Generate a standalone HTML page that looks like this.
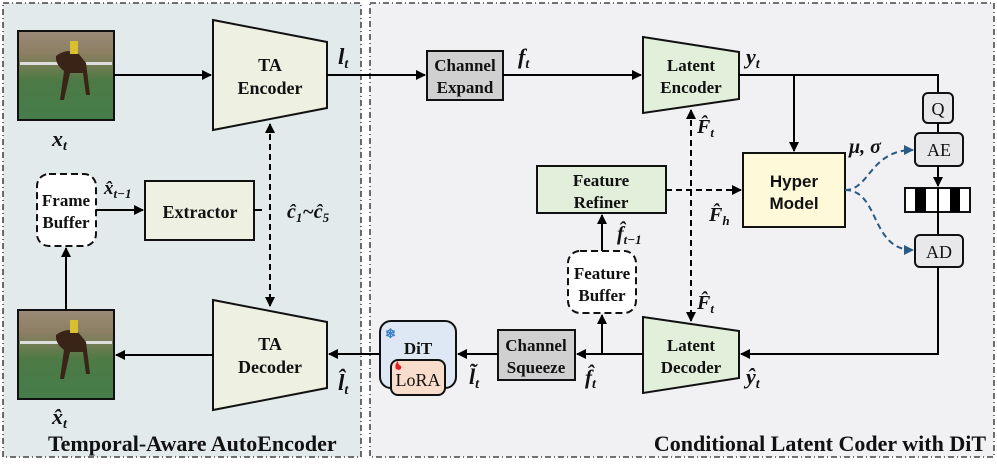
<!DOCTYPE html>
<html><head><meta charset="utf-8"><style>
body{margin:0;width:997px;height:461px;overflow:hidden;background:#fff}
text{font-family:"Liberation Serif",serif;font-weight:bold;fill:#111}
.m{font-style:italic}
</style></head><body>
<svg width="997" height="461" viewBox="0 0 997 461" xmlns="http://www.w3.org/2000/svg">
<defs>
<marker id="a" viewBox="0 0 10 10" refX="9" refY="5" markerWidth="5" markerHeight="5" orient="auto-start-reverse"><path d="M0,0L10,5L0,10z" fill="#000"/></marker>
<marker id="b" viewBox="0 0 10 10" refX="9" refY="5" markerWidth="5" markerHeight="5" orient="auto"><path d="M0,0L10,5L0,10z" fill="#2a5a85"/></marker>
<linearGradient id="img" x1="0" y1="0" x2="0" y2="1">
<stop offset="0" stop-color="#9a8a78"/><stop offset="0.25" stop-color="#8c7f62"/><stop offset="0.4" stop-color="#6f7c52"/><stop offset="0.55" stop-color="#4d7a45"/><stop offset="1" stop-color="#457d4a"/></linearGradient>
</defs>
<rect x="3" y="3" width="358" height="454" fill="#e3eaec" stroke="#222" stroke-width="1.3" stroke-dasharray="6,3,1,3"/>
<rect x="370" y="3" width="624" height="454" fill="#f1f1f3" stroke="#222" stroke-width="1.3" stroke-dasharray="6,3,1,3"/>

<g id="im1">
<rect x="18" y="31" width="96" height="89" fill="url(#img)" stroke="#111" stroke-width="2"/>
<rect x="20" y="62" width="92" height="3" fill="#ddd"/>
<path d="M56,56 q10,-8 22,-3 l8,10 l4,32 l-4,0 l-3,-22 l-13,0 l-6,27 l-4,0 l4,-29 q-9,-7 -8,-15z" fill="#3a2418"/>
<rect x="70" y="41" width="8" height="13" fill="#d8c030"/>
</g>
<g>
<rect x="18" y="310" width="96" height="89" fill="url(#img)" stroke="#111" stroke-width="2"/>
<rect x="20" y="341" width="92" height="3" fill="#ddd"/>
<path d="M56,335 q10,-8 22,-3 l8,10 l4,32 l-4,0 l-3,-22 l-13,0 l-6,27 l-4,0 l4,-29 q-9,-7 -8,-15z" fill="#3a2418"/>
<rect x="70" y="320" width="8" height="13" fill="#d8c030"/>
</g>
<text x="52" y="146" font-size="22" class="m">x<tspan font-size="14" dy="4">t</tspan></text>
<text x="52" y="424" font-size="22" class="m">x̂<tspan font-size="14" dy="4">t</tspan></text>

<polygon points="213,20 327,42 327,108 213,130" fill="#eef0e2" stroke="#111" stroke-width="2"/>
<text x="270" y="71" font-size="18" text-anchor="middle">TA</text>
<text x="270" y="94" font-size="18" text-anchor="middle">Encoder</text>
<polygon points="213,300 327,322 327,388 213,410" fill="#eef0e2" stroke="#111" stroke-width="2"/>
<text x="270" y="350" font-size="18" text-anchor="middle">TA</text>
<text x="270" y="373" font-size="18" text-anchor="middle">Decoder</text>

<line x1="114" y1="75" x2="211" y2="75" stroke="#000" stroke-width="2" marker-end="url(#a)"/>
<line x1="213" y1="355" x2="116" y2="355" stroke="#000" stroke-width="2" marker-end="url(#a)"/>
<line x1="66" y1="310" x2="66" y2="248" stroke="#000" stroke-width="2" marker-end="url(#a)"/>

<rect x="37" y="174" width="59" height="72" rx="12" fill="#fff" stroke="#111" stroke-width="2" stroke-dasharray="7,4"/>
<text x="66" y="206" font-size="17" text-anchor="middle">Frame</text>
<text x="66" y="228" font-size="17" text-anchor="middle">Buffer</text>
<rect x="145" y="181" width="109" height="59" fill="#eef0e2" stroke="#111" stroke-width="2"/>
<text x="200" y="218" font-size="18" text-anchor="middle">Extractor</text>
<line x1="96" y1="210" x2="143" y2="210" stroke="#000" stroke-width="2" marker-end="url(#a)"/>
<text x="104" y="194" font-size="19" class="m">x̂<tspan font-size="13" dy="4">t−1</tspan></text>
<line x1="254" y1="210" x2="262" y2="210" stroke="#000" stroke-width="2"/>
<line x1="270" y1="124" x2="270" y2="306" stroke="#000" stroke-width="2" stroke-dasharray="6,4" marker-start="url(#a)" marker-end="url(#a)"/>
<text x="287" y="218" font-size="20" class="m">ĉ<tspan font-size="13" dy="4">1</tspan><tspan dy="-4">~ĉ</tspan><tspan font-size="13" dy="4">5</tspan></text>
<text x="338" y="64" font-size="23" class="m">l<tspan font-size="14" dy="4">t</tspan></text>
<text x="338" y="390" font-size="23" class="m">l̂<tspan font-size="14" dy="4">t</tspan></text>
<text x="48" y="451" font-size="22">Temporal-Aware AutoEncoder</text>

<line x1="327" y1="75" x2="425" y2="75" stroke="#000" stroke-width="2" marker-end="url(#a)"/>
<rect x="427" y="51" width="76" height="49" fill="#d0d0d0" stroke="#111" stroke-width="2"/>
<text x="465" y="71" font-size="17" text-anchor="middle">Channel</text>
<text x="465" y="93" font-size="17" text-anchor="middle">Expand</text>
<line x1="503" y1="75" x2="641" y2="75" stroke="#000" stroke-width="2" marker-end="url(#a)"/>
<text x="518" y="64" font-size="22" class="m">f<tspan font-size="14" dy="4">t</tspan></text>
<polygon points="643,37 739,52 739,99 643,113" fill="#e2efda" stroke="#111" stroke-width="2"/>
<text x="691" y="71" font-size="17" text-anchor="middle">Latent</text>
<text x="691" y="93" font-size="17" text-anchor="middle">Encoder</text>
<text x="746" y="64" font-size="22" class="m">y<tspan font-size="14" dy="4">t</tspan></text>
<polyline points="739,75 938,75 938,93" fill="none" stroke="#000" stroke-width="2"/>
<line x1="794" y1="75" x2="794" y2="151" stroke="#000" stroke-width="2" marker-end="url(#a)"/>

<rect x="923" y="93" width="30" height="30" rx="5" fill="#e8e8ea" stroke="#111" stroke-width="2"/>
<text x="938" y="115" font-size="18" style="font-weight:normal" text-anchor="middle">Q</text>
<line x1="938" y1="123" x2="938" y2="133" stroke="#000" stroke-width="2"/>
<rect x="915" y="133" width="48" height="33" rx="5" fill="#e8e8ea" stroke="#111" stroke-width="2"/>
<text x="939" y="156" font-size="18" style="font-weight:normal" text-anchor="middle">AE</text>
<line x1="938" y1="166" x2="938" y2="186" stroke="#000" stroke-width="2" marker-end="url(#a)"/>
<rect x="905" y="188" width="65" height="24" fill="#fff" stroke="#111" stroke-width="2"/>
<rect x="915" y="188" width="11" height="24" fill="#000"/>
<rect x="950" y="188" width="10" height="24" fill="#000"/>
<line x1="938" y1="188" x2="938" y2="235" stroke="#000" stroke-width="2"/>
<rect x="915" y="235" width="48" height="32" rx="5" fill="#e8e8ea" stroke="#111" stroke-width="2"/>
<text x="939" y="258" font-size="18" style="font-weight:normal" text-anchor="middle">AD</text>
<polyline points="938,267 938,354 741,354" fill="none" stroke="#000" stroke-width="2" marker-end="url(#a)"/>

<rect x="743" y="153" width="102" height="74" fill="#fef9d9" stroke="#111" stroke-width="2"/>
<text x="794" y="187" font-size="17" text-anchor="middle" style="font-family:'Liberation Sans',sans-serif">Hyper</text>
<text x="794" y="209" font-size="17" text-anchor="middle" style="font-family:'Liberation Sans',sans-serif">Model</text>
<text x="849" y="153" font-size="20" class="m">μ, σ</text>
<path d="M845,190 C870,190 870,150 913,150" fill="none" stroke="#2a5a85" stroke-width="2" stroke-dasharray="6,4" marker-end="url(#b)"/>
<path d="M845,190 C880,190 870,250 913,250" fill="none" stroke="#2a5a85" stroke-width="2" stroke-dasharray="6,4" marker-end="url(#b)"/>

<rect x="537" y="166" width="129" height="47" fill="#e2efda" stroke="#111" stroke-width="2"/>
<text x="601" y="186" font-size="17" text-anchor="middle">Feature</text>
<text x="601" y="208" font-size="17" text-anchor="middle">Refiner</text>
<line x1="666" y1="190" x2="741" y2="190" stroke="#000" stroke-width="2" stroke-dasharray="6,4" marker-end="url(#a)"/>
<text x="709" y="221" font-size="20" class="m">F̂<tspan font-size="13" dy="4">h</tspan></text>
<line x1="691" y1="110" x2="691" y2="321" stroke="#000" stroke-width="2" stroke-dasharray="6,4" marker-start="url(#a)" marker-end="url(#a)"/>
<text x="697" y="133" font-size="20" class="m">F̂<tspan font-size="13" dy="4">t</tspan></text>
<text x="697" y="309" font-size="20" class="m">F̂<tspan font-size="13" dy="4">t</tspan></text>

<rect x="568" y="251" width="68" height="62" rx="12" fill="#fff" stroke="#111" stroke-width="2" stroke-dasharray="7,4"/>
<text x="602" y="279" font-size="17" text-anchor="middle">Feature</text>
<text x="602" y="301" font-size="17" text-anchor="middle">Buffer</text>
<line x1="602" y1="251" x2="602" y2="215" stroke="#000" stroke-width="2" marker-end="url(#a)"/>
<text x="617" y="240" font-size="20" class="m">f̂<tspan font-size="13" dy="4">t−1</tspan></text>
<line x1="602" y1="354" x2="602" y2="315" stroke="#000" stroke-width="2" marker-end="url(#a)"/>

<polygon points="643,317 739,331 739,378 643,393" fill="#e2efda" stroke="#111" stroke-width="2"/>
<text x="691" y="351" font-size="17" text-anchor="middle">Latent</text>
<text x="691" y="373" font-size="17" text-anchor="middle">Decoder</text>
<text x="746" y="384" font-size="22" class="m">ŷ<tspan font-size="14" dy="4">t</tspan></text>
<line x1="643" y1="354" x2="577" y2="354" stroke="#000" stroke-width="2" marker-end="url(#a)"/>
<text x="585" y="384" font-size="21" class="m">f̂<tspan font-size="14" dy="4">t</tspan></text>

<rect x="498" y="330" width="77" height="50" fill="#d0d0d0" stroke="#111" stroke-width="2"/>
<text x="536" y="351" font-size="17" text-anchor="middle">Channel</text>
<text x="536" y="373" font-size="17" text-anchor="middle">Squeeze</text>
<line x1="498" y1="354" x2="458" y2="354" stroke="#000" stroke-width="2" marker-end="url(#a)"/>
<text x="469" y="384" font-size="22" class="m">l̃<tspan font-size="14" dy="4">t</tspan></text>

<rect x="380" y="321" width="76" height="67" rx="11" fill="#dde8f4" stroke="#111" stroke-width="2"/>
<text x="385" y="338" font-size="13" style="fill:#3a7fc8">❄</text>
<text x="418" y="354" font-size="17" text-anchor="middle">DiT</text>
<rect x="391" y="360" width="54" height="35" rx="7" fill="#f8dccc" stroke="#111" stroke-width="2"/>
<text x="418" y="386" font-size="18" style="font-weight:normal" text-anchor="middle">LoRA</text>
<path d="M396,369 q-2,-4 2,-8 q0,4 3,5 q1,3 -2,4z" fill="#e02020"/>
<line x1="380" y1="354" x2="329" y2="354" stroke="#000" stroke-width="2" marker-end="url(#a)"/>

<text x="986" y="451" font-size="22" text-anchor="end">Conditional Latent Coder with DiT</text>
</svg>
</body></html>
